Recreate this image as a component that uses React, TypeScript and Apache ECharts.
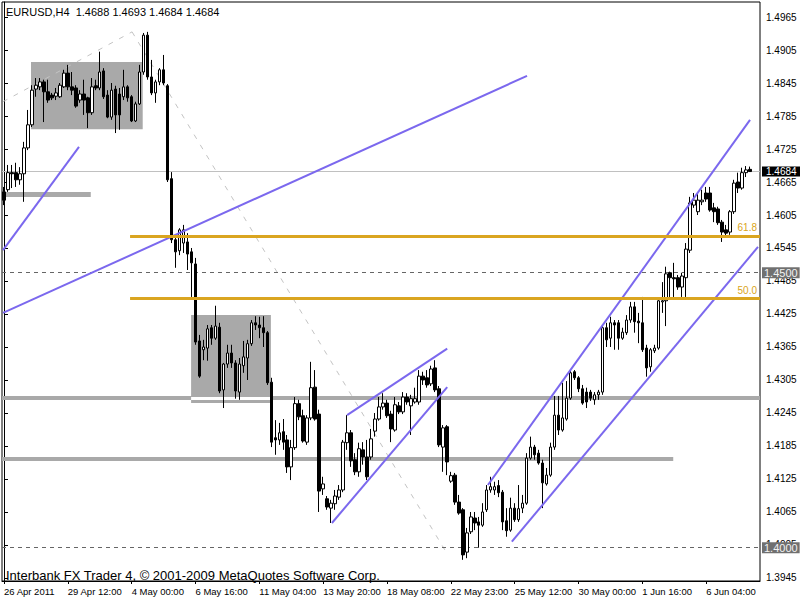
import React, { useEffect, useRef } from "react";
import * as echarts from "echarts";

const symbolTitle = "EURUSD,H4  1.4688 1.4693 1.4684 1.4684";
const copyright = "Interbank FX Trader 4, \u00A9 2001-2009 MetaQuotes Software Corp.";
const timeLabels = [
  "26 Apr 2011", "29 Apr 12:00", "4 May 00:00", "6 May 16:00", "11 May 04:00", "13 May 20:00",
  "18 May 08:00", "22 May 23:00", "25 May 12:00", "30 May 00:00", "1 Jun 16:00", "6 Jun 04:00",
];
const barsPerLabel = 16;
const slotCount = 190;
const priceMin = 1.39395;
const priceMax = 1.49923;
const priceTicks = [
  1.3945, 1.4005, 1.4065, 1.4125, 1.4185, 1.4245, 1.4305, 1.4365, 1.4425,
  1.4485, 1.4545, 1.4605, 1.4665, 1.4725, 1.4785, 1.4845, 1.4905, 1.4965,
];

const opens = [
  1.4647, 1.4651, 1.4682, 1.4682, 1.4669, 1.4680, 1.4727, 1.4769, 1.4834, 1.4838,
  1.4847, 1.4829, 1.4823, 1.4821, 1.4820, 1.4838, 1.4863, 1.4838, 1.4836, 1.4814,
  1.4825, 1.4818, 1.4791, 1.4840, 1.4836, 1.4867, 1.4823, 1.4783, 1.4834, 1.4825,
  1.4820, 1.4838, 1.4820, 1.4776, 1.4807, 1.4865, 1.4932, 1.4856, 1.4827, 1.4847,
  1.4869, 1.4840, 1.4671, 1.4560, 1.4540, 1.4554, 1.4556, 1.4538, 1.4516, 1.4376,
  1.4360, 1.4363, 1.4400, 1.4381, 1.4401, 1.4287, 1.4334, 1.4354, 1.4336, 1.4283,
  1.4331, 1.4345, 1.4371, 1.4409, 1.4405, 1.4400, 1.4391, 1.4301, 1.4200, 1.4196,
  1.4211, 1.4196, 1.4147, 1.4182, 1.4262, 1.4240, 1.4192, 1.4236, 1.4292, 1.4243,
  1.4107, 1.4089, 1.4072, 1.4080, 1.4092, 1.4105, 1.4191, 1.4209, 1.4160, 1.4138,
  1.4178, 1.4165, 1.4165, 1.4212, 1.4234, 1.4256, 1.4263, 1.4243, 1.4214, 1.4258,
  1.4247, 1.4274, 1.4258, 1.4265, 1.4265, 1.4312, 1.4309, 1.4298, 1.4327, 1.4289,
  1.4183, 1.4220, 1.4121, 1.4132, 1.4083, 1.4069, 1.3992, 1.4029, 1.4054, 1.4047,
  1.4041, 1.4069, 1.4105, 1.4105, 1.4113, 1.4101, 1.4049, 1.4032, 1.4072, 1.4051,
  1.4072, 1.4081, 1.4163, 1.4183, 1.4172, 1.4154, 1.4116, 1.4132, 1.4183, 1.4241,
  1.4214, 1.4234, 1.4272, 1.4320, 1.4309, 1.4289, 1.4283, 1.4283, 1.4269, 1.4278,
  1.4283, 1.4400, 1.4381, 1.4409, 1.4409, 1.4381, 1.4391, 1.4414, 1.4438, 1.4412,
  1.4409, 1.4363, 1.4329, 1.4358, 1.4363, 1.4447, 1.4449, 1.4500, 1.4491, 1.4491,
  1.4474, 1.4491, 1.4541, 1.4623, 1.4611, 1.4629, 1.4645, 1.4645, 1.4618, 1.4616,
  1.4592, 1.4578, 1.4574, 1.4611, 1.4665, 1.4654, 1.4682, 1.4688,
];
const closes = [
  1.4632, 1.4682, 1.4680, 1.4669, 1.4680, 1.4727, 1.4769, 1.4832, 1.4841, 1.4847,
  1.4829, 1.4814, 1.4818, 1.4827, 1.4841, 1.4863, 1.4838, 1.4832, 1.4803, 1.4825,
  1.4814, 1.4791, 1.4838, 1.4836, 1.4865, 1.4820, 1.4783, 1.4832, 1.4787, 1.4787,
  1.4838, 1.4818, 1.4776, 1.4807, 1.4865, 1.4932, 1.4856, 1.4827, 1.4847, 1.4869,
  1.4845, 1.4669, 1.4560, 1.4538, 1.4578, 1.4578, 1.4534, 1.4518, 1.4374, 1.4312,
  1.4365, 1.4398, 1.4381, 1.4403, 1.4285, 1.4334, 1.4354, 1.4336, 1.4285, 1.4334,
  1.4347, 1.4371, 1.4409, 1.4405, 1.4400, 1.4391, 1.4300, 1.4192, 1.4196, 1.4209,
  1.4192, 1.4147, 1.4182, 1.4262, 1.4238, 1.4194, 1.4236, 1.4291, 1.4234, 1.4103,
  1.4116, 1.4074, 1.4081, 1.4094, 1.4105, 1.4192, 1.4209, 1.4158, 1.4138, 1.4180,
  1.4165, 1.4129, 1.4198, 1.4234, 1.4256, 1.4263, 1.4240, 1.4216, 1.4260, 1.4247,
  1.4274, 1.4265, 1.4271, 1.4271, 1.4312, 1.4305, 1.4296, 1.4325, 1.4287, 1.4187,
  1.4218, 1.4156, 1.4131, 1.4083, 1.4063, 1.3987, 1.4027, 1.4056, 1.4045, 1.4041,
  1.4065, 1.4105, 1.4111, 1.4111, 1.4100, 1.4047, 1.4031, 1.4072, 1.4051, 1.4071,
  1.4081, 1.4163, 1.4183, 1.4169, 1.4154, 1.4118, 1.4132, 1.4183, 1.4241, 1.4214,
  1.4236, 1.4272, 1.4318, 1.4309, 1.4289, 1.4263, 1.4265, 1.4272, 1.4278, 1.4283,
  1.4400, 1.4378, 1.4409, 1.4405, 1.4381, 1.4392, 1.4414, 1.4438, 1.4411, 1.4409,
  1.4360, 1.4327, 1.4360, 1.4363, 1.4449, 1.4449, 1.4498, 1.4491, 1.4489, 1.4474,
  1.4494, 1.4543, 1.4627, 1.4632, 1.4632, 1.4632, 1.4634, 1.4614, 1.4611, 1.4591,
  1.4574, 1.4572, 1.4611, 1.4663, 1.4654, 1.4682, 1.4687, 1.4684,
];
const lows = [
  1.4623, 1.4647, 1.4654, 1.4656, 1.4660, 1.4629, 1.4723, 1.4765, 1.4820, 1.4832,
  1.4774, 1.4809, 1.4814, 1.4814, 1.4818, 1.4836, 1.4832, 1.4823, 1.4800, 1.4809,
  1.4787, 1.4763, 1.4787, 1.4832, 1.4832, 1.4816, 1.4781, 1.4778, 1.4754, 1.4760,
  1.4814, 1.4811, 1.4774, 1.4774, 1.4805, 1.4860, 1.4851, 1.4823, 1.4809, 1.4841,
  1.4841, 1.4665, 1.4554, 1.4509, 1.4532, 1.4536, 1.4505, 1.4456, 1.4369, 1.4309,
  1.4341, 1.4340, 1.4369, 1.4378, 1.4281, 1.4254, 1.4327, 1.4327, 1.4271, 1.4269,
  1.4318, 1.4305, 1.4367, 1.4396, 1.4381, 1.4365, 1.4296, 1.4183, 1.4169, 1.4187,
  1.4178, 1.4136, 1.4123, 1.4178, 1.4232, 1.4191, 1.4187, 1.4232, 1.4231, 1.4065,
  1.4096, 1.4069, 1.4045, 1.4069, 1.4087, 1.4101, 1.4178, 1.4147, 1.4132, 1.4129,
  1.4151, 1.4123, 1.4160, 1.4202, 1.4231, 1.4251, 1.4236, 1.4192, 1.4211, 1.4243,
  1.4243, 1.4260, 1.4205, 1.4262, 1.4260, 1.4296, 1.4291, 1.4294, 1.4283, 1.4183,
  1.4138, 1.4132, 1.4118, 1.4078, 1.4060, 1.3978, 1.3981, 1.4025, 1.4032, 1.4000,
  1.4038, 1.4065, 1.4100, 1.4096, 1.4092, 1.4032, 1.4020, 1.4029, 1.4047, 1.4047,
  1.4063, 1.4078, 1.4160, 1.4160, 1.4151, 1.4072, 1.4113, 1.4129, 1.4178, 1.4205,
  1.4211, 1.4231, 1.4269, 1.4305, 1.4283, 1.4260, 1.4254, 1.4267, 1.4260, 1.4269,
  1.4278, 1.4365, 1.4365, 1.4360, 1.4360, 1.4378, 1.4387, 1.4409, 1.4391, 1.4372,
  1.4356, 1.4311, 1.4320, 1.4354, 1.4360, 1.4427, 1.4403, 1.4456, 1.4456, 1.4469,
  1.4456, 1.4456, 1.4536, 1.4618, 1.4605, 1.4623, 1.4629, 1.4611, 1.4592, 1.4587,
  1.4556, 1.4565, 1.4569, 1.4607, 1.4645, 1.4651, 1.4674, 1.4684,
];
const highs = [
  1.4656, 1.4696, 1.4696, 1.4700, 1.4692, 1.4738, 1.4796, 1.4841, 1.4854, 1.4854,
  1.4851, 1.4851, 1.4827, 1.4836, 1.4845, 1.4869, 1.4878, 1.4865, 1.4841, 1.4832,
  1.4851, 1.4820, 1.4854, 1.4851, 1.4902, 1.4872, 1.4832, 1.4845, 1.4840, 1.4836,
  1.4869, 1.4841, 1.4823, 1.4811, 1.4878, 1.4936, 1.4938, 1.4887, 1.4851, 1.4872,
  1.4896, 1.4843, 1.4683, 1.4567, 1.4581, 1.4587, 1.4572, 1.4545, 1.4527, 1.4387,
  1.4378, 1.4405, 1.4405, 1.4440, 1.4409, 1.4336, 1.4369, 1.4369, 1.4341, 1.4345,
  1.4376, 1.4378, 1.4414, 1.4421, 1.4420, 1.4421, 1.4394, 1.4309, 1.4232, 1.4227,
  1.4234, 1.4205, 1.4196, 1.4274, 1.4269, 1.4251, 1.4241, 1.4338, 1.4323, 1.4251,
  1.4129, 1.4094, 1.4087, 1.4105, 1.4114, 1.4196, 1.4241, 1.4214, 1.4172, 1.4191,
  1.4192, 1.4196, 1.4216, 1.4245, 1.4274, 1.4281, 1.4269, 1.4249, 1.4274, 1.4265,
  1.4283, 1.4281, 1.4278, 1.4291, 1.4323, 1.4320, 1.4323, 1.4331, 1.4341, 1.4294,
  1.4223, 1.4223, 1.4138, 1.4136, 1.4096, 1.4072, 1.4036, 1.4065, 1.4065, 1.4056,
  1.4081, 1.4114, 1.4129, 1.4120, 1.4123, 1.4105, 1.4072, 1.4091, 1.4081, 1.4114,
  1.4096, 1.4172, 1.4202, 1.4187, 1.4178, 1.4160, 1.4145, 1.4191, 1.4276, 1.4276,
  1.4300, 1.4303, 1.4323, 1.4323, 1.4312, 1.4296, 1.4291, 1.4287, 1.4283, 1.4287,
  1.4405, 1.4409, 1.4420, 1.4414, 1.4414, 1.4400, 1.4423, 1.4447, 1.4447, 1.4427,
  1.4456, 1.4369, 1.4363, 1.4369, 1.4454, 1.4483, 1.4511, 1.4502, 1.4518, 1.4496,
  1.4500, 1.4554, 1.4638, 1.4645, 1.4645, 1.4651, 1.4656, 1.4656, 1.4627, 1.4620,
  1.4596, 1.4587, 1.4614, 1.4669, 1.4682, 1.4691, 1.4694, 1.4693,
];

// drawn objects, in bar index / price units: [barFrom, priceFrom, barTo, priceTo]
const trendLines = [
  [-0.25, 1.4541, 18.8, 1.4729],
  [-0.25, 1.4427, 131.1, 1.4858],
  [86.0, 1.4241, 111.1, 1.4362],
  [82.2, 1.4045, 111.1, 1.4292],
  [121.3, 1.4114, 187.0, 1.4778],
  [127.3, 1.4011, 189.0, 1.4547],
];
const fibDiagonal = [
  [-0.25, 1.4811],
  [32.1, 1.4938],
  [111.0, 1.399],
];
const fibNames = ["61.8", "50.0"];
const fibPrices = [1.4567, 1.4454];
const fibStartBar = 31.6;
// horizontal support lines: [barFrom, barTo, price]
const supportLines = [
  [-0.5, 21.75, 1.4642],
  [-0.5, 189.5, 1.4272],
  [-0.5, 167.75, 1.4162],
];
// rectangles: [barFrom, barTo, priceTop, priceBottom]
const boxes = [
  [6.77, 34.77, 1.4883, 1.4761],
  [46.9, 66.9, 1.4423, 1.4263],
];
const priceLevels = [1.45, 1.4];
const lastPrice = 1.4684;

const categories = Array.from({ length: slotCount }, (_, i) => "b" + i);

export default function App() {
  const ref = useRef<HTMLDivElement>(null);
  useEffect(() => {
    if (!ref.current) return;
    const chart = echarts.init(ref.current, null, { renderer: "svg" });
    const font = "Liberation Sans";
    const candles = opens.map((o, i) => [o, closes[i], lows[i], highs[i]]);
    const seg = (x1: number, p1: number, x2: number, p2: number, extra: any = {}) => [
      { coord: [x1, p1], ...extra },
      { coord: [x2, p2] },
    ];
    const hiddenData = [[0, lastPrice]];
    const overlayBase = {
      type: "line",
      xAxisIndex: 1,
      yAxisIndex: 0,
      data: hiddenData,
      showSymbol: false,
      symbol: "none",
      lineStyle: { width: 0, opacity: 0 },
      silent: true,
      animation: false,
    };
    const option: any = {
      animation: false,
      backgroundColor: "#ffffff",
      textStyle: { fontFamily: font },
      title: [
        {
          text: symbolTitle,
          left: 6,
          top: 6,
          padding: 0,
          textStyle: { fontSize: 11, fontWeight: "normal", color: "#000", fontFamily: font },
        },
        {
          text: copyright,
          left: 6,
          top: 569,
          padding: 0,
          textStyle: { fontSize: 13, fontWeight: "normal", color: "#000", fontFamily: font },
        },
      ],
      grid: {
        left: 2,
        right: 40,
        top: 2,
        bottom: 19,
        show: true,
        borderColor: "#000",
        borderWidth: 1,
        backgroundColor: "transparent",
      },
      xAxis: [
        {
          type: "category",
          data: categories,
          boundaryGap: true,
          axisLine: { show: true, lineStyle: { color: "#000" } },
          axisTick: { show: true, interval: barsPerLabel - 1, alignWithLabel: true, length: 3, lineStyle: { color: "#000" } },
          axisLabel: {
            interval: barsPerLabel - 1,
            align: "left",
            margin: 5,
            fontSize: 9.5,
            color: "#000",
            fontFamily: font,
            formatter: (_v: string, i: number) => timeLabels[i / barsPerLabel] ?? "",
          },
          splitLine: { show: false },
        },
        { type: "value", min: -0.5, max: slotCount - 0.5, show: false },
      ],
      yAxis: {
        type: "value",
        position: "right",
        min: priceMin,
        max: priceMax,
        axisLine: { show: true, lineStyle: { color: "#000" } },
        axisTick: { show: true, customValues: priceTicks, length: 4, lineStyle: { color: "#000" } },
        axisLabel: {
          customValues: priceTicks,
          formatter: (v: number) => v.toFixed(4),
          fontSize: 10,
          color: "#000",
          margin: 6,
          fontFamily: font,
        },
        splitLine: { show: false },
      },
      series: [
        {
          ...overlayBase,
          name: "boxes",
          markArea: {
            silent: true,
            z: 1,
            label: { show: false },
            itemStyle: { color: "#A9A9A9", opacity: 1 },
            data: boxes.map((b) => [{ coord: [b[0], b[2]] }, { coord: [b[1], b[3]] }]),
          },
        },
        {
          ...overlayBase,
          name: "levels",
          markLine: {
            silent: true,
            z: 1.2,
            precision: 4,
            symbol: ["none", "none"],
            label: { show: false },
            data: [
              ...supportLines.map((s, i) =>
                seg(s[0], s[2], s[1], s[2], { lineStyle: { color: "#A9A9A9", width: i === 0 ? 5 : 4, type: "solid" } })
              ),
              [
                { coord: [boxes[1][0], supportLines[1][2]], lineStyle: { color: "#ffffff", width: 3, type: "solid" } },
                { coord: [boxes[1][1], supportLines[1][2]] },
              ],
              ...fibDiagonal.slice(1).map((p, i) =>
                seg(fibDiagonal[i][0], fibDiagonal[i][1], p[0], p[1], { lineStyle: { color: "#C4C4C4", width: 1, type: [5, 7] } })
              ),
              ...priceLevels.map((lv) => ({
                yAxis: lv,
                lineStyle: { color: "#666", width: 1, type: [4, 4] },
                label: {
                  show: true,
                  position: "end",
                  distance: 2,
                  formatter: (p: any) => Number(p.value).toFixed(4),
                  backgroundColor: "#707070",
                  color: "#F2F2F2",
                  fontSize: 11,
                  lineHeight: 11,
                  padding: [0, 2, 0, 2],
                  fontFamily: font,
                },
              })),
              {
                yAxis: lastPrice,
                lineStyle: { color: "#C0C0C0", width: 1, type: "solid" },
                label: {
                  show: true,
                  position: "end",
                  distance: 2,
                  formatter: (p: any) => Number(p.value).toFixed(4),
                  backgroundColor: "#000",
                  color: "#fff",
                  fontSize: 10,
                  lineHeight: 10,
                  padding: [0, 4, 0, 4],
                  fontFamily: font,
                },
              },
            ],
          },
        },
        {
          type: "candlestick",
          name: "EURUSD",
          xAxisIndex: 0,
          yAxisIndex: 0,
          z: 3,
          barWidth: 3,
          data: candles,
          itemStyle: {
            color: "#ffffff",
            color0: "#000000",
            borderColor: "#000000",
            borderColor0: "#000000",
            borderWidth: 1,
          },
          silent: true,
        },
        {
          ...overlayBase,
          name: "objects",
          markLine: {
            silent: true,
            z: 5,
            precision: 4,
            symbol: ["none", "none"],
            label: { show: false },
            data: [
              ...trendLines.map((t) =>
                seg(t[0], t[1], t[2], t[3], { lineStyle: { color: "#7B68EE", width: 2, type: "solid" } })
              ),
              ...fibPrices.map((p, i) =>
                seg(fibStartBar, p, slotCount - 0.5, p, {
                  lineStyle: { color: "#DAA520", width: 3, type: "solid" },
                  label: {
                    show: true,
                    position: "insideEndTop",
                    distance: 3,
                    formatter: fibNames[i],
                    color: "#DAA520",
                    fontSize: 10,
                    fontFamily: font,
                  },
                })
              ),
            ],
          },
        },
      ],
    };
    chart.setOption(option);
    return () => chart.dispose();
  }, []);
  return (
    <div
      ref={ref}
      style={{ position: "fixed", left: 0, top: 0, width: 800, height: 600, background: "#fff" }}
    />
  );
}
